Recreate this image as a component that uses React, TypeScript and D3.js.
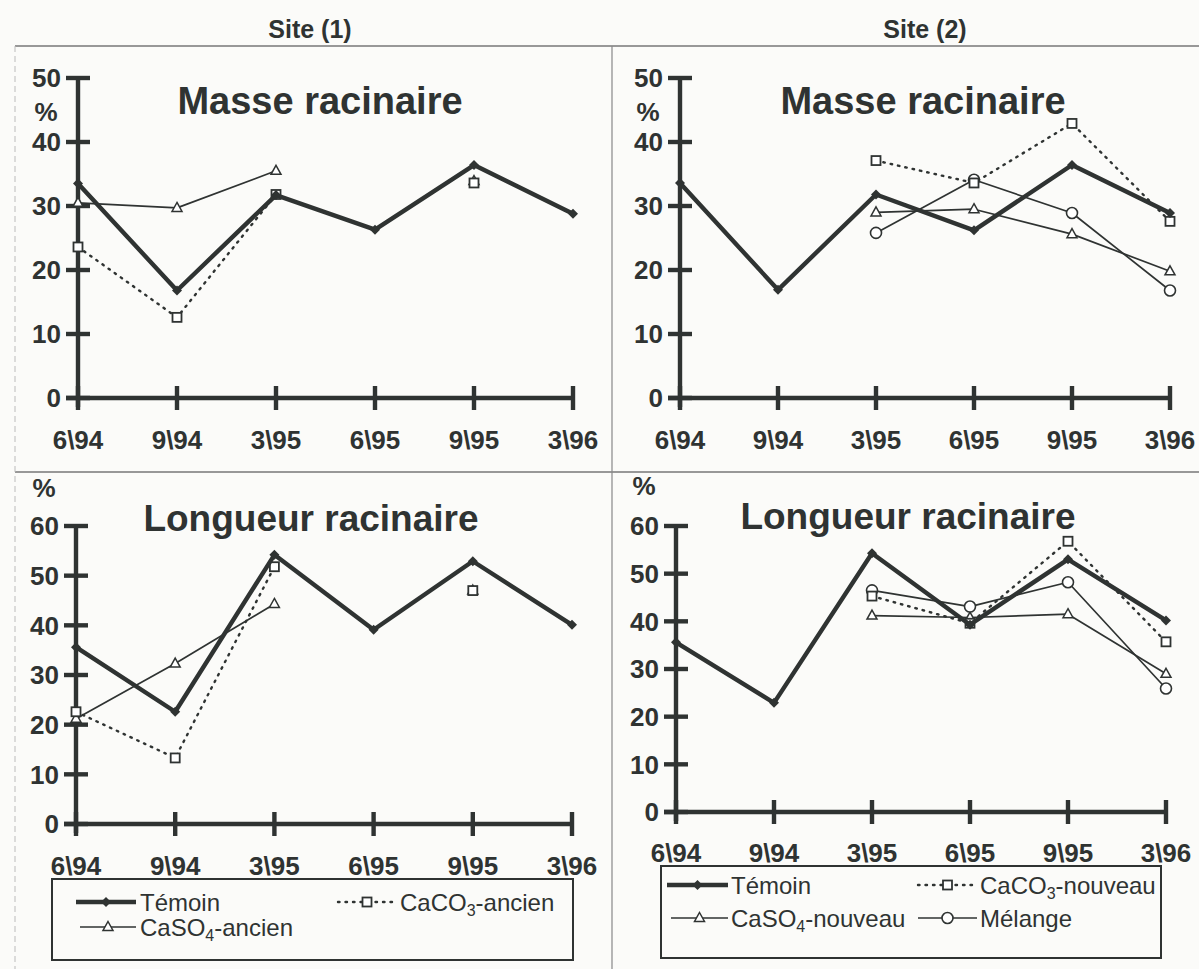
import React from "react";
import * as d3 from "d3";

const dates = ["6\\94", "9\\94", "3\\95", "6\\95", "9\\95", "3\\96"];
const masseTicks = [0, 10, 20, 30, 40, 50];
const longueurTicks = [0, 10, 20, 30, 40, 50, 60];

// Site (1) – Masse racinaire
const temoinMasse1 = [33.5, 16.8, 31.7, 26.3, 36.4, 28.8];
const caco3AncienMasse = [23.6, 12.6, 31.8, null, 33.6, null];
const caso4AncienMasse = [30.5, 29.7, 35.5, null, 33.9, null];

// Site (2) – Masse racinaire
const temoinMasse2 = [33.6, 16.9, 31.8, 26.2, 36.4, 28.9];
const caco3NouveauMasse = [null, null, 37.1, 33.6, 42.9, 27.6];
const caso4NouveauMasse = [null, null, 29.0, 29.5, 25.6, 19.8];
const melangeMasse = [null, null, 25.8, 34.1, 28.9, 16.8];

// Site (1) – Longueur racinaire
const temoinLongueur1 = [35.6, 22.6, 54.2, 39.1, 52.9, 40.1];
const caco3AncienLongueur = [22.6, 13.3, 51.8, null, 47.0, null];
const caso4AncienLongueur = [21.2, 32.3, 44.3, null, 47.0, null];

// Site (2) – Longueur racinaire
const temoinLongueur2 = [35.6, 22.9, 54.3, 39.3, 53.0, 40.2];
const caco3NouveauLongueur = [null, null, 45.3, 39.6, 56.8, 35.7];
const caso4NouveauLongueur = [null, null, 41.2, 40.8, 41.5, 29.0];
const melangeLongueur = [null, null, 46.5, 43.1, 48.2, 25.9];

const INK = "#2f3332";
const FONT = "'Liberation Sans', Arial, sans-serif";
const TICK_FS = 26;
const LEG_FS = 24;

type Kind = "temoin" | "caco3" | "caso4" | "melange";
type Series = { kind: Kind; values: (number | null)[] };

function Marker({ kind, x, y }: { kind: Kind; x: number; y: number }) {
  if (kind === "temoin") {
    const s = 5;
    return <path d={`M${x},${y - s}L${x + s},${y}L${x},${y + s}L${x - s},${y}Z`} fill={INK} />;
  }
  if (kind === "caco3") {
    return <rect x={x - 4.5} y={y - 4.5} width={9} height={9} fill="#fff" stroke={INK} strokeWidth={1.8} />;
  }
  if (kind === "caso4") {
    return <path d={`M${x},${y - 5.5}L${x + 5},${y + 3.5}L${x - 5},${y + 3.5}Z`} fill="#fff" stroke={INK} strokeWidth={1.5} />;
  }
  return <circle cx={x} cy={y} r={5.5} fill="#fff" stroke={INK} strokeWidth={1.6} />;
}

function lineStyle(kind: Kind) {
  if (kind === "temoin") return { strokeWidth: 4.4, dash: undefined as string | undefined };
  if (kind === "caco3") return { strokeWidth: 2.4, dash: "1.5 6" };
  return { strokeWidth: 1.7, dash: undefined as string | undefined };
}

type PanelProps = {
  x0: number; x1: number; yZero: number; yTopPx: number; yMax: number; ticks: number[];
  title: string; titleX: number; titleY: number; titleSize: number;
  percentY: number; labelY: number; series: Series[];
};

function Panel(p: PanelProps) {
  const x = d3.scalePoint<string>().domain(dates).range([p.x0, p.x1]);
  const y = d3.scaleLinear().domain([0, p.yMax]).range([p.yZero, p.yTopPx]);
  const order: Kind[] = ["caso4", "melange", "caco3", "temoin"];
  const sorted = [...p.series].sort((a, b) => order.indexOf(a.kind) - order.indexOf(b.kind));
  return (
    <g>
      <text x={p.titleX} y={p.titleY} textAnchor="middle" fontFamily={FONT} fontWeight="bold" fontSize={p.titleSize} fill={INK}>
        {p.title}
      </text>
      {/* y axis */}
      <line x1={p.x0} x2={p.x0} y1={y(p.yMax)} y2={p.yZero + 9} stroke={INK} strokeWidth={4.4} />
      {p.ticks.map((t) => (
        <g key={t}>
          <line x1={p.x0 - 12} x2={p.x0 + 12} y1={y(t)} y2={y(t)} stroke={INK} strokeWidth={4.4} />
          <text x={p.x0 - 17} y={y(t)} dy="0.36em" textAnchor="end" fontFamily={FONT} fontWeight="bold" fontSize={TICK_FS} fill={INK}>
            {t}
          </text>
        </g>
      ))}
      <text x={p.x0 - 32} y={p.percentY} dy="0.36em" textAnchor="middle" fontFamily={FONT} fontWeight="bold" fontSize={TICK_FS} fill={INK}>
        %
      </text>
      {/* x axis */}
      <line x1={p.x0 - 12} x2={p.x1} y1={p.yZero} y2={p.yZero} stroke={INK} strokeWidth={4.4} />
      {dates.map((d) => (
        <g key={d}>
          <line x1={x(d)!} x2={x(d)!} y1={p.yZero - 12} y2={p.yZero + 12} stroke={INK} strokeWidth={4.4} />
          <text x={x(d)!} y={p.labelY} dy="0.36em" textAnchor="middle" fontFamily={FONT} fontWeight="bold" fontSize={TICK_FS} fill={INK}>
            {d}
          </text>
        </g>
      ))}
      {sorted.map((s, i) => {
        const pts = s.values.map((v, j) => ({ d: dates[j], v }));
        const gen = d3
          .line<{ d: string; v: number | null }>()
          .defined((q) => q.v != null)
          .x((q) => x(q.d)!)
          .y((q) => y(q.v as number));
        const st = lineStyle(s.kind);
        return (
          <g key={i}>
            <path d={gen(pts) || ""} fill="none" stroke={INK} strokeWidth={st.strokeWidth} strokeDasharray={st.dash}
              strokeLinecap={s.kind === "caco3" ? "round" : "butt"} strokeLinejoin="round" />
            {pts.filter((q) => q.v != null).map((q) => (
              <Marker key={q.d} kind={s.kind} x={x(q.d)!} y={y(q.v as number)} />
            ))}
          </g>
        );
      })}
    </g>
  );
}

function LegendSample({ kind, x0, x1, y }: { kind: Kind; x0: number; x1: number; y: number }) {
  const st = lineStyle(kind);
  return (
    <g>
      <line x1={x0} x2={x1} y1={y} y2={y} stroke={INK} strokeWidth={st.strokeWidth} strokeDasharray={st.dash}
        strokeLinecap={kind === "caco3" ? "round" : "butt"} />
      <Marker kind={kind} x={(x0 + x1) / 2} y={y} />
    </g>
  );
}

function Chem({ base, sub, rest, x, y }: { base: string; sub: string; rest: string; x: number; y: number }) {
  return (
    <text x={x} y={y} dy="0.36em" fontFamily={FONT} fontSize={LEG_FS} fill={INK}>
      {base}
      <tspan fontSize={16} dy={5}>{sub}</tspan>
      <tspan dy={-5}>{rest}</tspan>
    </text>
  );
}

export default function App() {
  return (
    <svg width={1199} height={969} style={{ position: "absolute", left: 0, top: 0, background: "#fbfbf9" }}>
      <rect x={0} y={0} width={1199} height={969} fill="#fbfbf9" />
      {/* frame */}
      <text x={310} y={38} textAnchor="middle" fontFamily={FONT} fontWeight="bold" fontSize={25} fill={INK}>Site (1)</text>
      <text x={925} y={38} textAnchor="middle" fontFamily={FONT} fontWeight="bold" fontSize={25} fill={INK}>Site (2)</text>
      <line x1={15} x2={1199} y1={46} y2={46} stroke="#777" strokeWidth={1.5} />
      <line x1={15} x2={1199} y1={472} y2={472} stroke="#777" strokeWidth={1.5} />
      <line x1={612} x2={612} y1={46} y2={969} stroke="#888" strokeWidth={1.2} />
      <line x1={15} x2={15} y1={46} y2={969} stroke="#bbb" strokeWidth={1} strokeDasharray="6 4" />

      <Panel x0={78} x1={573} yZero={398} yTopPx={78} yMax={50} ticks={masseTicks}
        title="Masse racinaire" titleX={320} titleY={114} titleSize={38} percentY={112} labelY={440}
        series={[
          { kind: "temoin", values: temoinMasse1 },
          { kind: "caco3", values: caco3AncienMasse },
          { kind: "caso4", values: caso4AncienMasse },
        ]} />
      <Panel x0={680} x1={1170} yZero={398} yTopPx={78} yMax={50} ticks={masseTicks}
        title="Masse racinaire" titleX={923} titleY={114} titleSize={38} percentY={112} labelY={440}
        series={[
          { kind: "temoin", values: temoinMasse2 },
          { kind: "caco3", values: caco3NouveauMasse },
          { kind: "caso4", values: caso4NouveauMasse },
          { kind: "melange", values: melangeMasse },
        ]} />
      <Panel x0={76} x1={572} yZero={824} yTopPx={526} yMax={60} ticks={longueurTicks}
        title="Longueur racinaire" titleX={311} titleY={531} titleSize={37} percentY={488} labelY={866}
        series={[
          { kind: "temoin", values: temoinLongueur1 },
          { kind: "caco3", values: caco3AncienLongueur },
          { kind: "caso4", values: caso4AncienLongueur },
        ]} />
      <Panel x0={676} x1={1166} yZero={812} yTopPx={526} yMax={60} ticks={longueurTicks}
        title="Longueur racinaire" titleX={908} titleY={529} titleSize={37} percentY={486} labelY={853}
        series={[
          { kind: "temoin", values: temoinLongueur2 },
          { kind: "caco3", values: caco3NouveauLongueur },
          { kind: "caso4", values: caso4NouveauLongueur },
          { kind: "melange", values: melangeLongueur },
        ]} />

      {/* Legend site 1 */}
      <rect x={52} y={879} width={521} height={81} fill="none" stroke={INK} strokeWidth={2} />
      <LegendSample kind="temoin" x0={76} x1={136} y={902} />
      <text x={140} y={902} dy="0.36em" fontFamily={FONT} fontSize={LEG_FS} fill={INK}>Témoin</text>
      <LegendSample kind="caco3" x0={338} x1={396} y={902} />
      <Chem base="CaCO" sub="3" rest="-ancien" x={400} y={902} />
      <LegendSample kind="caso4" x0={80} x1={136} y={927} />
      <Chem base="CaSO" sub="4" rest="-ancien" x={140} y={927} />

      {/* Legend site 2 */}
      <rect x={661} y={866} width={500} height={92} fill="none" stroke={INK} strokeWidth={2} />
      <LegendSample kind="temoin" x0={667} x1={728} y={885} />
      <text x={731} y={885} dy="0.36em" fontFamily={FONT} fontSize={LEG_FS} fill={INK}>Témoin</text>
      <LegendSample kind="caco3" x0={918} x1={977} y={885} />
      <Chem base="CaCO" sub="3" rest="-nouveau" x={980} y={885} />
      <LegendSample kind="caso4" x0={671} x1={728} y={918} />
      <Chem base="CaSO" sub="4" rest="-nouveau" x={731} y={918} />
      <LegendSample kind="melange" x0={918} x1={977} y={918} />
      <text x={980} y={918} dy="0.36em" fontFamily={FONT} fontSize={LEG_FS} fill={INK}>Mélange</text>
    </svg>
  );
}
